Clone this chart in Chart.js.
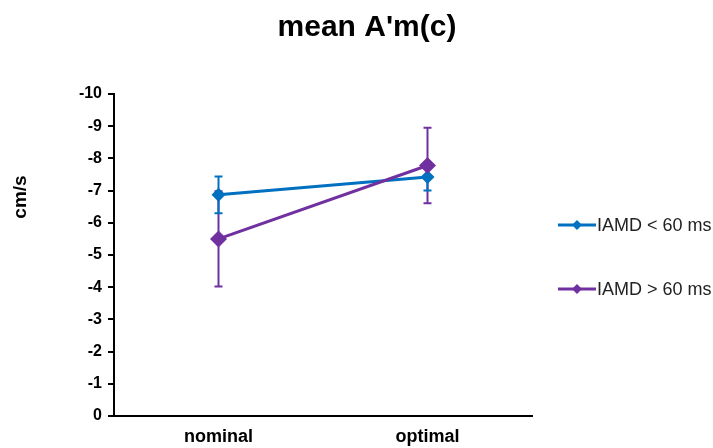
<!DOCTYPE html>
<html>
<head>
<meta charset="utf-8">
<script src="https://cdn.jsdelivr.net/npm/chart.js@4/dist/chart.umd.min.js"></script>
<style>
html,body{margin:0;padding:0;background:#fff;}
#wrap{width:713px;height:448px;}
</style>
</head>
<body>
<div id="wrap"><canvas id="c" width="713" height="448"></canvas></div>
<script>
const categories = ['nominal', 'optimal'];
const seriesNames = ['IAMD < 60 ms', 'IAMD > 60 ms'];
const lowMeans = [-6.87, -7.42];
const lowErrors = [0.57, 0.42];
const highMeans = [-5.50, -7.78];
const highErrors = [1.48, 1.17];
const yTickValues = [-10, -9, -8, -7, -6, -5, -4, -3, -2, -1, 0];
const chartTitle = "mean A'm(c)";
const yTitle = 'cm/s';

const BLUE = '#0070C0';
const PURPLE = '#7030A0';
const FONT = "'Liberation Sans', Arial, sans-serif";

const errorBars = {
  id: 'errorBars',
  beforeDatasetsDraw(chart) {
    const ctx = chart.ctx;
    const xs = chart.scales.x, ys = chart.scales.y;
    [1, 0].forEach(di => {
      const ds = chart.data.datasets[di];
      ctx.save();
      ctx.strokeStyle = ds.borderColor;
      ctx.lineWidth = 2;
      ds.data.forEach((v, i) => {
        const e = ds.errors[i];
        const x = xs.getPixelForValue(i);
        const y1 = ys.getPixelForValue(v - e);
        const y2 = ys.getPixelForValue(v + e);
        ctx.beginPath();
        ctx.moveTo(x, y1); ctx.lineTo(x, y2);
        ctx.moveTo(x - 4, y1); ctx.lineTo(x + 4, y1);
        ctx.moveTo(x - 4, y2); ctx.lineTo(x + 4, y2);
        ctx.stroke();
      });
      ctx.restore();
    });
  }
};

const extras = {
  id: 'extras',
  afterDraw(chart) {
    const ctx = chart.ctx;
    ctx.save();
    ctx.fillStyle = '#000';
    ctx.font = 'bold 30px ' + FONT;
    ctx.textAlign = 'center';
    ctx.textBaseline = 'middle';
    ctx.fillText(chartTitle, 367, 28);
    ctx.save();
    ctx.translate(21, 197);
    ctx.rotate(-Math.PI / 2);
    ctx.font = 'bold 19px ' + FONT;
    ctx.textAlign = 'center';
    ctx.textBaseline = 'middle';
    ctx.fillText(yTitle, 0, 0);
    ctx.restore();
    const items = [[BLUE, 225], [PURPLE, 289]];
    items.forEach(([col, y], k) => {
      ctx.strokeStyle = col;
      ctx.lineWidth = 3;
      ctx.beginPath();
      ctx.moveTo(558, y); ctx.lineTo(596, y);
      ctx.stroke();
      ctx.fillStyle = col;
      ctx.beginPath();
      ctx.moveTo(577, y - 5); ctx.lineTo(582, y); ctx.lineTo(577, y + 5); ctx.lineTo(572, y);
      ctx.closePath(); ctx.fill();
      ctx.fillStyle = '#222';
      ctx.font = '18px ' + FONT;
      ctx.textAlign = 'left';
      ctx.textBaseline = 'middle';
      ctx.fillText(seriesNames[k], 597, y + 1);
    });
    ctx.restore();
  }
};

new Chart(document.getElementById('c'), {
  type: 'line',
  data: {
    labels: categories,
    datasets: [
      {
        label: seriesNames[0], data: lowMeans, errors: lowErrors,
        borderColor: BLUE, backgroundColor: BLUE, borderWidth: 3,
        pointStyle: 'rectRot', pointRadius: 7, pointBorderWidth: 0,
        tension: 0, fill: false, order: 1
      },
      {
        label: seriesNames[1], data: highMeans, errors: highErrors,
        borderColor: PURPLE, backgroundColor: PURPLE, borderWidth: 3,
        pointStyle: 'rectRot', pointRadius: 8.5, pointBorderWidth: 0,
        tension: 0, fill: false, order: 0
      }
    ]
  },
  options: {
    responsive: false,
    animation: false,
    events: [],
    layout: { padding: { top: 94, right: 181, bottom: 0, left: 0 } },
    plugins: { legend: { display: false }, title: { display: false }, tooltip: { enabled: false } },
    scales: {
      x: {
        offset: true,
        ticks: { color: '#000', font: { family: FONT, size: 18, weight: 'bold' }, padding: 2 },
        grid: { display: false, offset: true },
        border: { display: true, color: '#000', width: 2 },
        afterFit(s) { s.height = 32; s.paddingLeft = 0; s.paddingRight = 0; }
      },
      y: {
        reverse: true, min: -10, max: 0,
        afterBuildTicks(s) { s.ticks = yTickValues.map(v => ({ value: v })); },
        ticks: { color: '#000', font: { family: FONT, size: 16, weight: 'bold' }, padding: 6 },
        grid: { drawOnChartArea: false, drawTicks: true, tickLength: 6, color: '#000', lineWidth: 2 },
        border: { display: true, color: '#000', width: 2 },
        afterFit(s) { s.width = 114; s.paddingTop = 0; s.paddingBottom = 0; }
      }
    }
  },
  plugins: [errorBars, extras]
});
</script>
</body>
</html>
